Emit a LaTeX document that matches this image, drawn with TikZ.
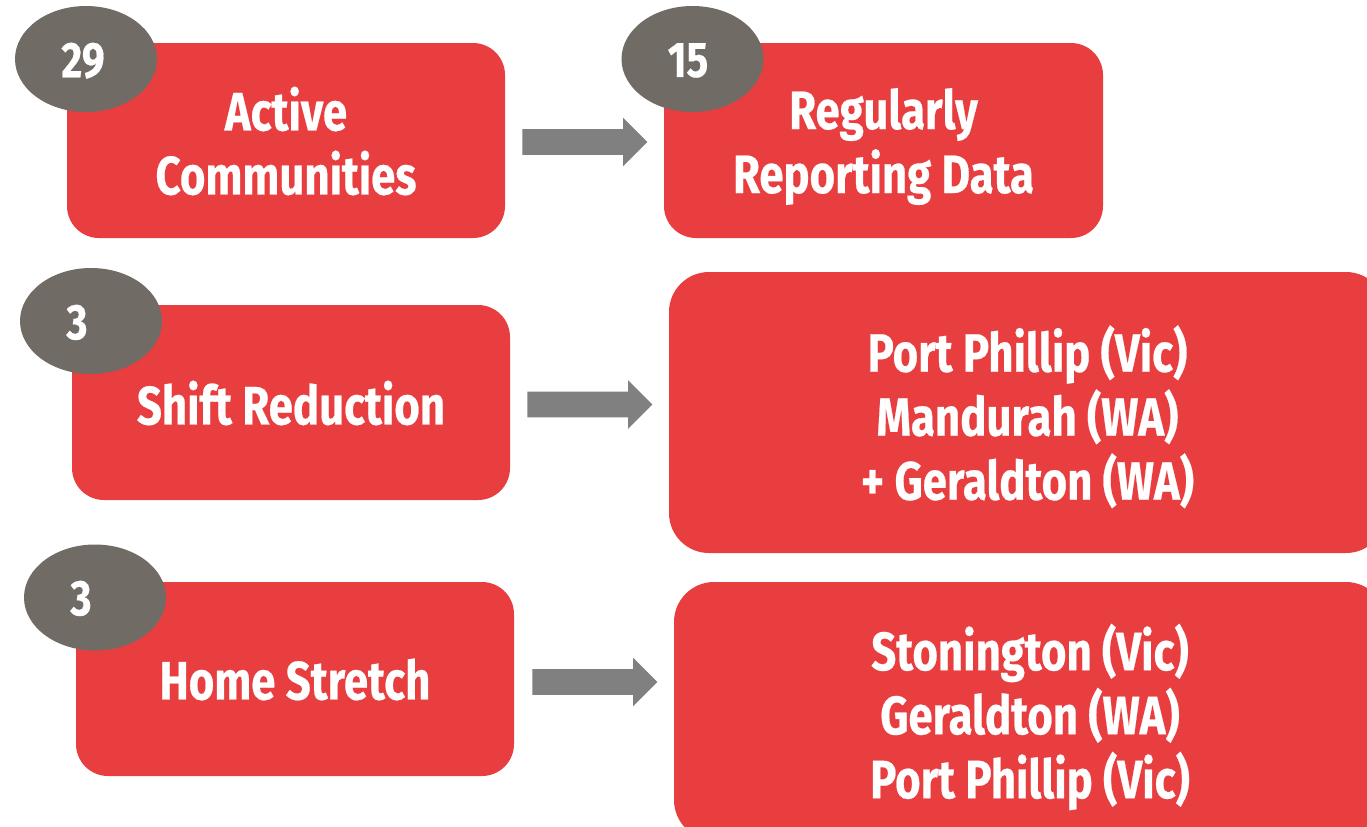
\documentclass[tikz,border=0pt]{standalone}
\usepackage{fontspec}
\setmainfont[FakeStretch=0.81, BoldFeatures={FakeBold=0.4}]{Fira Sans}
\usetikzlibrary{shapes.geometric,shapes.arrows,positioning}
\definecolor{boxred}{RGB}{232,62,64}
\definecolor{badgegray}{RGB}{112,107,101}
\definecolor{arrowgray}{RGB}{128,128,128}

\begin{document}
\begin{tikzpicture}[x=0.5pt,y=-0.5pt,
  stage/.style={fill=boxred, rounded corners=16pt, text=white, align=center,
    font=\bfseries\fontsize{27}{32}\selectfont, inner sep=0pt, text depth=0pt},
  badge/.style={ellipse, fill=badgegray, minimum width=71pt, minimum height=53pt, inner sep=0pt},
  count/.style={text=white, font=\bfseries\fontsize{25}{30}\selectfont, inner sep=0pt, text depth=0pt},
  flow/.style={single arrow, fill=arrowgray, minimum height=62.5pt, inner xsep=0pt, inner ysep=6.25pt,
    single arrow head extend=5.75pt, anchor=tail}]
\useasboundingbox (0,0) rectangle (1367,826);
\clip (0,0) rectangle (1367,826);

% Top row
\node[stage, minimum width=219pt, minimum height=97.5pt] (active) at (286,140.5) {Active\\Communities};
\node[stage, minimum width=219.5pt, minimum height=97.5pt] (report) at (883.5,140.5) {Regularly\\Reporting Data};
\node[badge] (b29) at (86,59) {};
\node[count] (n29) at (83,60) {29};
\node[badge] (b15) at (692.5,59) {};
\node[count] (n15) at (688,60) {15};
\node[flow] (a1) at (522,142) {};

% Middle row
\node[stage, minimum width=219pt, minimum height=97.5pt] (shift) at (291,402.5) {Shift Reduction};
\node[stage, rounded corners=20pt, minimum width=358.5pt, minimum height=140.5pt] (shiftlist) at (1027.5,412.5)
  {Port Phillip (Vic)\\Mandurah (WA)\\+ Geraldton (WA)};
\node[badge] (b3a) at (91,321) {};
\node[count] (n3a) at (77,322) {3};
\node[flow] (a2) at (527,404.5) {};

% Bottom row
\node[stage, minimum width=219pt, minimum height=97pt] (home) at (295,679) {Home Stretch};
\node[stage, rounded corners=20pt, minimum width=356pt, minimum height=129pt] (homelist) at (1030,711)
  {Stonington (Vic)\\Geraldton (WA)\\Port Phillip (Vic)};
\node[badge] (b3b) at (95,597.5) {};
\node[count] (n3b) at (81,598) {3};
\node[flow] (a3) at (532,682) {};
\end{tikzpicture}
\end{document}
